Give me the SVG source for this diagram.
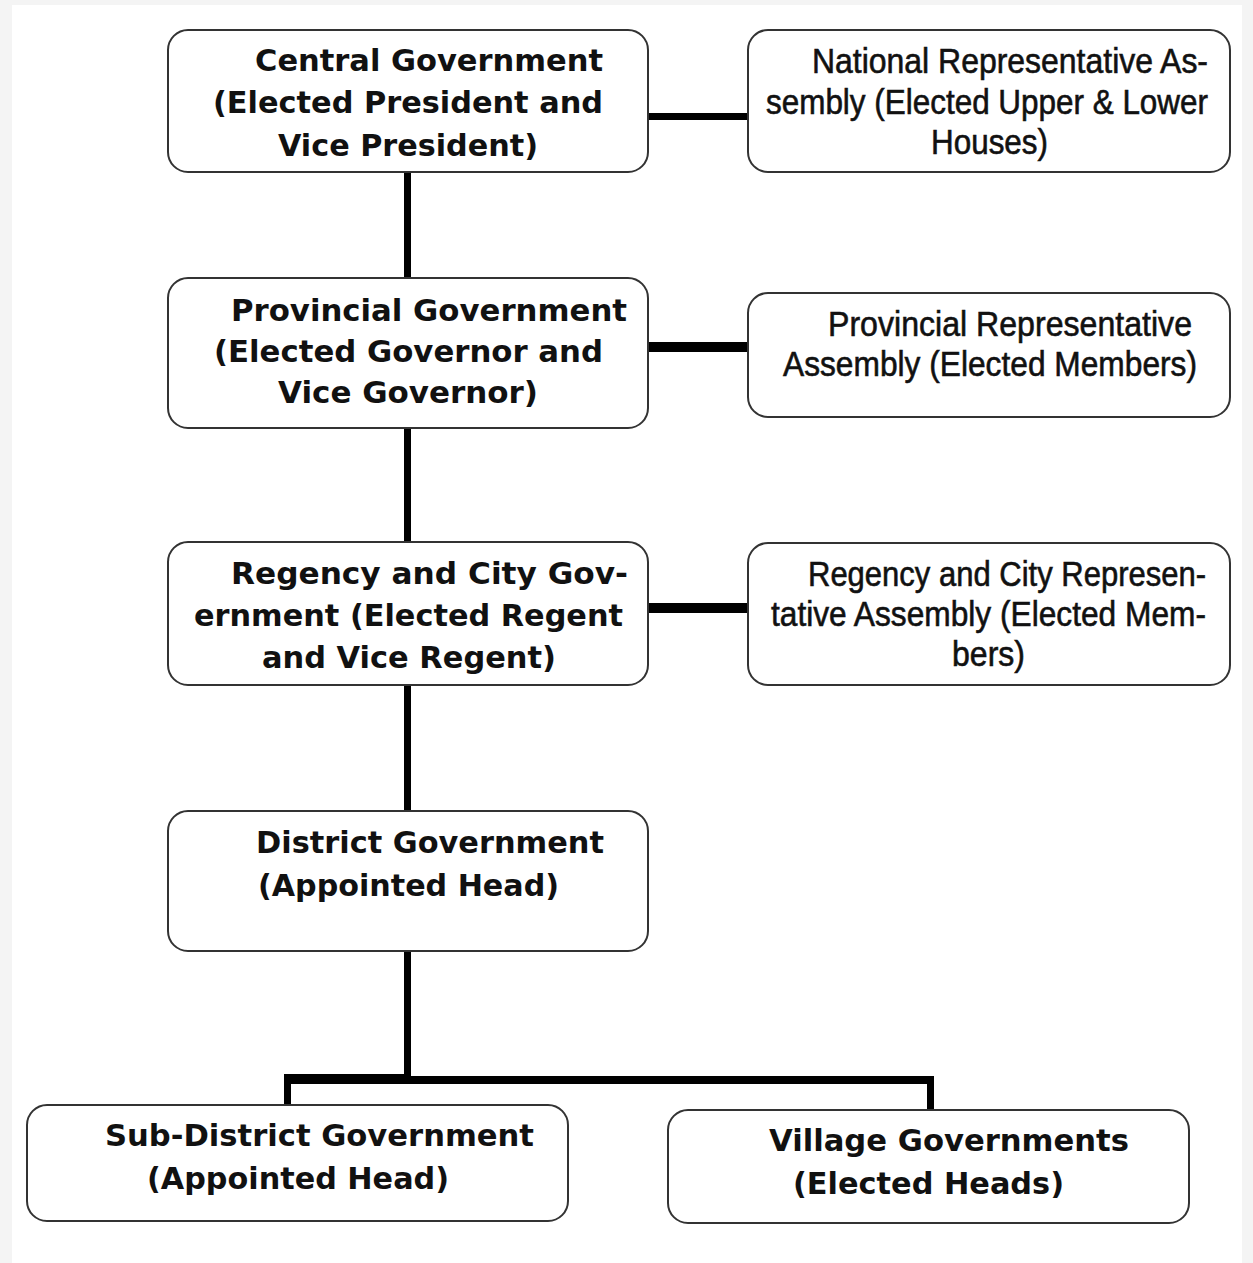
<svg xmlns="http://www.w3.org/2000/svg" width="1253" height="1263" viewBox="0 0 1253 1263">
  <style>
    .box { fill: #ffffff; stroke: #333333; stroke-width: 2; }
    .gov { font-family: "DejaVu Sans", Verdana, sans-serif; font-weight: bold; font-size: 30px; fill: #111111; }
    .rep { font-family: "Liberation Sans", Arial, sans-serif; font-size: 35px; fill: #111111; stroke: #111111; stroke-width: 0.6; }
    .conn { fill: #000000; }
  </style>
  <rect x="0" y="0" width="1253" height="1263" fill="#f4f4f4"/>
  <rect x="12" y="5" width="1230" height="1258" fill="#ffffff"/>

  <g id="connectors">
    <rect class="conn" x="404" y="172" width="7" height="106"/>
    <rect class="conn" x="404" y="428" width="7" height="114"/>
    <rect class="conn" x="404" y="685" width="7" height="126"/>
    <rect class="conn" x="404" y="951" width="7" height="130"/>
    <rect class="conn" x="648" y="113" width="100" height="7"/>
    <rect class="conn" x="648" y="342" width="100" height="10"/>
    <rect class="conn" x="648" y="603" width="100" height="10"/>
    <rect class="conn" x="284" y="1074" width="127" height="10"/>
    <rect class="conn" x="404" y="1076" width="530" height="8"/>
    <rect class="conn" x="284" y="1076" width="7" height="30"/>
    <rect class="conn" x="927" y="1076" width="7" height="35"/>
  </g>

  <g id="central">
    <rect class="box" x="168" y="30" width="480" height="142" rx="20"/>
    <text class="gov" x="255" y="71" textLength="348" lengthAdjust="spacingAndGlyphs">Central Government</text>
    <text class="gov" x="213" y="113" textLength="390" lengthAdjust="spacingAndGlyphs">(Elected President and</text>
    <text class="gov" x="278" y="156" textLength="260" lengthAdjust="spacingAndGlyphs">Vice President)</text>
  </g>

  <g id="national">
    <rect class="box" x="748" y="30" width="482" height="142" rx="20"/>
    <text class="rep" x="812" y="73" textLength="396" lengthAdjust="spacingAndGlyphs">National Representative As-</text>
    <text class="rep" x="766" y="114" textLength="442" lengthAdjust="spacingAndGlyphs">sembly (Elected Upper &amp; Lower</text>
    <text class="rep" x="931" y="154" textLength="117" lengthAdjust="spacingAndGlyphs">Houses)</text>
  </g>

  <g id="provincial">
    <rect class="box" x="168" y="278" width="480" height="150" rx="20"/>
    <text class="gov" x="231" y="321" textLength="396" lengthAdjust="spacingAndGlyphs">Provincial Government</text>
    <text class="gov" x="214" y="362" textLength="389" lengthAdjust="spacingAndGlyphs">(Elected Governor and</text>
    <text class="gov" x="278" y="403" textLength="260" lengthAdjust="spacingAndGlyphs">Vice Governor)</text>
  </g>

  <g id="provincial-rep">
    <rect class="box" x="748" y="293" width="482" height="124" rx="20"/>
    <text class="rep" x="828" y="336" textLength="364" lengthAdjust="spacingAndGlyphs">Provincial Representative</text>
    <text class="rep" x="783" y="376" textLength="414" lengthAdjust="spacingAndGlyphs">Assembly (Elected Members)</text>
  </g>

  <g id="regency">
    <rect class="box" x="168" y="542" width="480" height="143" rx="20"/>
    <text class="gov" x="231" y="584" textLength="397" lengthAdjust="spacingAndGlyphs">Regency and City Gov-</text>
    <text class="gov" x="194" y="626" textLength="429" lengthAdjust="spacingAndGlyphs">ernment (Elected Regent</text>
    <text class="gov" x="262" y="668" textLength="294" lengthAdjust="spacingAndGlyphs">and Vice Regent)</text>
  </g>

  <g id="regency-rep">
    <rect class="box" x="748" y="543" width="482" height="142" rx="20"/>
    <text class="rep" x="808" y="586" textLength="398" lengthAdjust="spacingAndGlyphs">Regency and City Represen-</text>
    <text class="rep" x="771" y="626" textLength="435" lengthAdjust="spacingAndGlyphs">tative Assembly (Elected Mem-</text>
    <text class="rep" x="952" y="666" textLength="73" lengthAdjust="spacingAndGlyphs">bers)</text>
  </g>

  <g id="district">
    <rect class="box" x="168" y="811" width="480" height="140" rx="20"/>
    <text class="gov" x="256" y="853" textLength="348" lengthAdjust="spacingAndGlyphs">District Government</text>
    <text class="gov" x="258" y="896" textLength="301" lengthAdjust="spacingAndGlyphs">(Appointed Head)</text>
  </g>

  <g id="sub-district">
    <rect class="box" x="27" y="1105" width="541" height="116" rx="20"/>
    <text class="gov" x="105" y="1146" textLength="429" lengthAdjust="spacingAndGlyphs">Sub-District Government</text>
    <text class="gov" x="147" y="1189" textLength="302" lengthAdjust="spacingAndGlyphs">(Appointed Head)</text>
  </g>

  <g id="village">
    <rect class="box" x="668" y="1110" width="521" height="113" rx="20"/>
    <text class="gov" x="769" y="1151" textLength="360" lengthAdjust="spacingAndGlyphs">Village Governments</text>
    <text class="gov" x="793" y="1194" textLength="271" lengthAdjust="spacingAndGlyphs">(Elected Heads)</text>
  </g>
</svg>
